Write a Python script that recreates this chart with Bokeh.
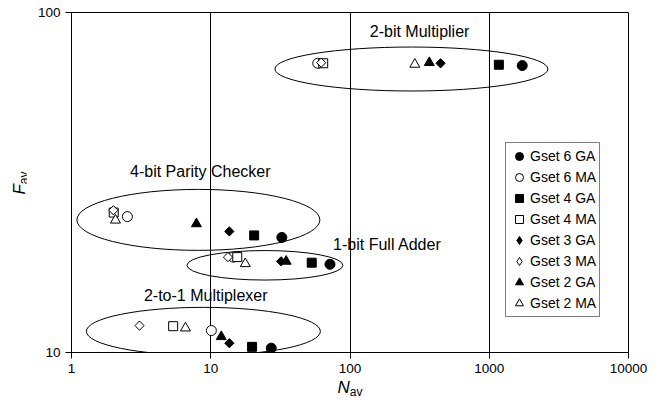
import numpy as np
from bokeh.plotting import figure
from bokeh.models import FixedTicker, NumeralTickFormatter, Label, Legend, LegendItem, Div
from bokeh.layouts import row, column
from bokeh.embed import file_html
from bokeh.resources import INLINE

# ---------------- data ----------------
x_ticks = [1, 10, 100, 1000, 10000]
y_ticks = [10, 100]
circuits = ["2-bit Multiplier", "4-bit Parity Checker", "1-bit Full Adder", "2-to-1 Multiplexer"]

# order of values: 2-bit Multiplier, 4-bit Parity Checker, 1-bit Full Adder, 2-to-1 Multiplexer
gset6_ga_n = [1725, 32.4, 71.8, 27.2]
gset6_ga_f = [69.8, 21.8, 18.17, 10.3]
gset6_ma_n = [58.7, 2.52, 14.5, 10.1]
gset6_ma_f = [70.9, 25.1, 19.08, 11.6]
gset4_ga_n = [1172, 20.5, 53.1, 19.8]
gset4_ga_f = [70.2, 22.1, 18.37, 10.39]
gset4_ma_n = [64.2, 2.01, 15.5, 5.37]
gset4_ma_f = [70.9, 25.8, 19.08, 11.95]
gset3_ga_n = [447, 13.6, 32.0, 13.6]
gset3_ga_f = [70.9, 22.7, 18.54, 10.65]
gset3_ma_n = [62.1, 2.0, 13.3, 3.08]
gset3_ma_f = [71.2, 26.2, 19.08, 12.0]
gset2_ga_n = [371, 7.89, 34.8, 11.9]
gset2_ga_f = [71.2, 23.9, 18.54, 11.13]
gset2_ma_n = [292, 2.07, 17.7, 6.58]
gset2_ma_f = [70.4, 24.5, 18.24, 11.8]

series = [
    ("Gset 6 GA", gset6_ga_n, gset6_ga_f),
    ("Gset 6 MA", gset6_ma_n, gset6_ma_f),
    ("Gset 4 GA", gset4_ga_n, gset4_ga_f),
    ("Gset 4 MA", gset4_ma_n, gset4_ma_f),
    ("Gset 3 GA", gset3_ga_n, gset3_ga_f),
    ("Gset 3 MA", gset3_ma_n, gset3_ma_f),
    ("Gset 2 GA", gset2_ga_n, gset2_ga_f),
    ("Gset 2 MA", gset2_ma_n, gset2_ma_f),
]

# ---------------- annotation layout ----------------
# group ellipses: centre (data), width/height (screen px)
ell_cx = [276, 8.15, 24.5, 8.85]
ell_cy = [68.2, 24.55, 18.05, 11.54]
ell_w = [273, 243, 156, 234]
ell_h = [44, 61, 29.5, 48]
# group label positions (data)
lab_x = [316, 8.41, 185.5, 9.2]
lab_y = [88.1, 34.1, 20.8, 14.67]

styles = {
    "Gset 6 GA": dict(marker="circle", size=10, fill_color="black", angle=0, legend_marker="circle"),
    "Gset 6 MA": dict(marker="circle", size=10, fill_color="white", angle=0, legend_marker="circle"),
    "Gset 4 GA": dict(marker="square", size=9, fill_color="black", angle=0, legend_marker="square"),
    "Gset 4 MA": dict(marker="square", size=9, fill_color="white", angle=0, legend_marker="square"),
    "Gset 3 GA": dict(marker="square", size=6.5, fill_color="black", angle=np.pi / 4, legend_marker="diamond"),
    "Gset 3 MA": dict(marker="square", size=6.5, fill_color="white", angle=np.pi / 4, legend_marker="diamond"),
    "Gset 2 GA": dict(marker="triangle", size=10, fill_color="black", angle=0, legend_marker="triangle"),
    "Gset 2 MA": dict(marker="triangle", size=10, fill_color="white", angle=0, legend_marker="triangle"),
}

FONT = "Liberation Sans"

LEFT_W = 26
P_W = 626
P_H = 380
BOTTOM_H = 16

p = figure(width=P_W, height=P_H, x_axis_type="log", y_axis_type="log",
           x_range=(x_ticks[0], x_ticks[-1]), y_range=(y_ticks[0], y_ticks[-1]),
           output_backend="svg", toolbar_location=None,
           min_border_left=45, min_border_right=24, min_border_top=12, min_border_bottom=28)
p.background_fill_color = "white"
p.border_fill_color = "white"
p.outline_line_color = "black"
p.outline_line_width = 1
p.outline_line_alpha = 1

# axes
for ax in (p.xaxis[0], p.yaxis[0]):
    ax.axis_line_color = "black"
    ax.major_tick_line_color = "black"
    ax.major_tick_out = 6
    ax.major_tick_in = 0
    ax.minor_tick_line_color = None
    ax.major_label_text_font = FONT
    ax.major_label_text_font_size = "13.5px"
    ax.major_label_text_color = "black"
    ax.formatter = NumeralTickFormatter(format="0")
p.xaxis.ticker = FixedTicker(ticks=x_ticks)
p.yaxis.ticker = FixedTicker(ticks=y_ticks)
p.xaxis.major_label_standoff = 5
p.yaxis.major_label_standoff = 5

# grid: vertical lines at interior decades only
p.xgrid.ticker = FixedTicker(ticks=x_ticks[1:-1])
p.xgrid.grid_line_color = "black"
p.xgrid.grid_line_width = 1
p.xgrid.grid_line_alpha = 1
p.ygrid.grid_line_color = None

# ellipses
p.ellipse(x=ell_cx, y=ell_cy, width=ell_w, height=ell_h,
          width_units="screen", height_units="screen",
          fill_color=None, line_color="black", line_width=1)

# group labels
for name, lx, ly in zip(circuits, lab_x, lab_y):
    p.add_layout(Label(x=lx, y=ly, text=name, text_align="center", text_baseline="middle",
                       text_font=FONT, text_font_size="16px", text_color="black"))

# points
items = []
for name, xs, ys in series:
    st = styles[name]
    legend_r = None
    if st["legend_marker"] != st["marker"]:
        # legend swatch renderer (legend does not rotate markers); drawn underneath
        # the rotated squares, which fully cover it
        legend_r = p.scatter(x=xs, y=ys, marker=st["legend_marker"], size=8,
                             fill_color=st["fill_color"], line_color="black", line_width=1)
    r = p.scatter(x=xs, y=ys, marker=st["marker"], size=st["size"], angle=st["angle"],
                  fill_color=st["fill_color"], line_color="black", line_width=1)
    items.append(LegendItem(label=name, renderers=[legend_r if legend_r is not None else r]))

legend = Legend(items=items, location=(434, 35), orientation="vertical")
legend.label_text_font = FONT
legend.label_text_font_size = "14px"
legend.label_text_color = "black"
legend.glyph_width = 20
legend.glyph_height = 20
legend.label_height = 20
legend.label_standoff = 1
legend.spacing = 1
legend.padding = 3
legend.margin = 0
legend.border_line_color = "black"
legend.border_line_width = 1
legend.background_fill_color = "white"
legend.background_fill_alpha = 1
p.add_layout(legend)

# axis titles with subscripts (HTML text)
txt_style = "font-family:'Liberation Sans',Arial,sans-serif; color:black; white-space:nowrap;"
n_html = (f'<div style="position:relative; width:{P_W}px; height:{BOTTOM_H}px;">'
          f'<span style="position:absolute; left:324px; top:8px; transform:translate(-50%,-50%); {txt_style}">'
          '<i style="font-size:17px;">N</i>'
          '<span style="font-size:12px; position:relative; top:3px;">av</span></span></div>')
f_html = (f'<div style="position:relative; width:{LEFT_W}px; height:{P_H + BOTTOM_H}px;">'
          f'<span style="position:absolute; left:20px; top:183px; transform:translate(-50%,-50%) rotate(-90deg); {txt_style}">'
          '<i style="font-size:17px;">F</i>'
          '<span style="font-size:12px; position:relative; top:3px;">av</span></span></div>')

div_n = Div(text=n_html, width=P_W, height=BOTTOM_H, margin=0, styles={"overflow": "visible"})
div_f = Div(text=f_html, width=LEFT_W, height=P_H + BOTTOM_H, margin=0, styles={"overflow": "visible"})

layout = row(div_f, column(p, div_n, spacing=0), spacing=0)

open("out.html", "w").write(file_html(layout, INLINE))
